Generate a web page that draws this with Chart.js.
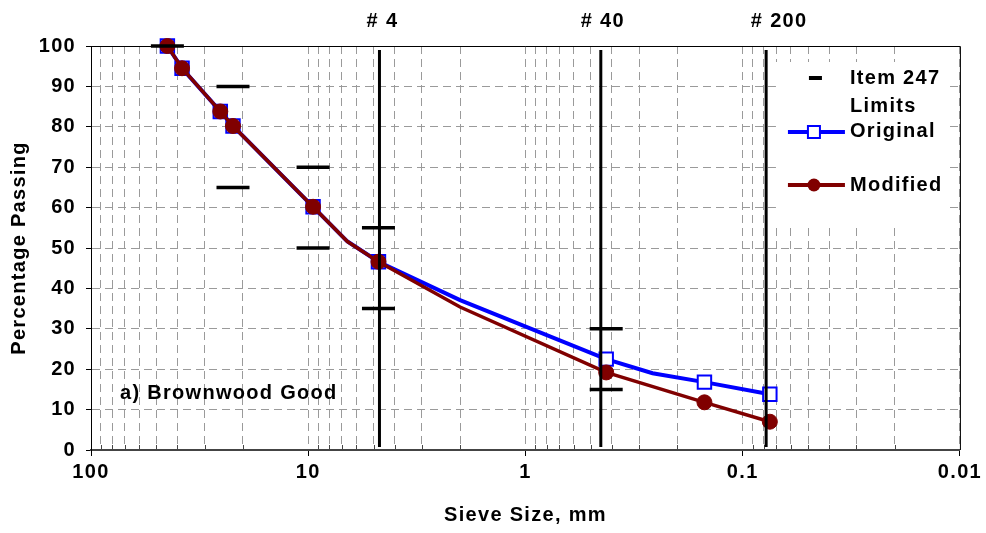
<!doctype html>
<html>
<head>
<title>Brownwood Good - Gradation</title>
<script src="https://cdn.jsdelivr.net/npm/chart.js@4.4.0/dist/chart.umd.min.js"></script>
<style>
html, body { margin: 0; padding: 0; background: #fff; }
#wrap { width: 986px; height: 533px; position: relative; }
</style>
</head>
<body>
<div id="wrap"><canvas id="chart"></canvas></div>
<script>
// sieve sizes (mm) that carry a marker
const sieveSizes = [44.5, 38.1, 25.4, 22.2, 9.5, 4.75, 0.425, 0.15, 0.075];

// Original gradation (incl. a few unmarked bend points)
const origSize = [44.5, 38.1, 25.4, 22.2, 9.5, 6.6, 4.75, 2.0, 0.425, 0.26, 0.15, 0.075];
const origPass = [100, 94.5, 83.8, 80.2, 60.2, 51.6, 46.6, 37.1, 22.5, 19.0, 16.8, 13.8];

// Modified gradation
const modSize = [44.5, 38.1, 25.4, 22.2, 9.5, 6.6, 4.75, 2.0, 0.425, 0.15, 0.075];
const modPass = [100, 94.5, 83.8, 80.2, 60.2, 51.6, 46.6, 35.4, 19.2, 11.8, 7.0];

// Item 247 limits
const limitSize = [44.5, 22.2, 22.2, 9.5, 9.5, 4.75, 4.75, 0.425, 0.425];
const limitPass = [100, 90, 65, 70, 50, 55, 35, 30, 15];

// sieve reference lines
const sieveLineSize = [4.7, 0.45, 0.078];
const sieveLineLabel = ['# 4', '# 40', '# 200'];

// axis ticks
const xTickValues = [100, 10, 1, 0.1, 0.01];
const xTickLabels = ['100', '10', '1', '0.1', '0.01'];
const yTickStep = 10;

const FONT = '"Liberation Sans", Arial, sans-serif';
const SPACING = '1.3px';
Chart.defaults.font.family = FONT;
Chart.defaults.color = '#000';

function mant(v) {
  return v / Math.pow(10, Math.floor(Math.log10(v) + 1e-9));
}
function isDecade(v) {
  return Math.abs(mant(v) - 1) < 1e-6;
}
function isWholeStep(v) {
  const m = mant(v);
  return Math.abs(m - Math.round(m)) < 1e-6;
}
function marked(ctx) {
  const r = ctx.raw;
  return r && sieveSizes.some(s => Math.abs(s - r.x) < 1e-9);
}
function pts(xs, ys) {
  return xs.map((s, i) => ({x: s, y: ys[i]}));
}

// the original text is a bit wider than Arial, widen it a little
const spacing = {
  id: 'spacing',
  beforeLayout(chart) { chart.ctx.letterSpacing = SPACING; },
  beforeDraw(chart) { chart.ctx.letterSpacing = SPACING; }
};

const extras = {
  id: 'extras',
  afterDatasetsDraw(chart) {
    const {ctx, chartArea: a, scales: {x}} = chart;
    ctx.save();
    // small inner ticks on the bottom axis
    ctx.strokeStyle = '#444';
    ctx.lineWidth = 1;
    x.ticks.forEach(t => {
      if (isDecade(t.value)) return;
      const px = Math.round(x.getPixelForValue(t.value)) + 0.5;
      ctx.beginPath();
      ctx.moveTo(px, a.bottom - 1);
      ctx.lineTo(px, a.bottom - 5);
      ctx.stroke();
    });
    // frame top/right
    ctx.strokeStyle = '#000';
    ctx.beginPath();
    ctx.moveTo(a.left, a.top + 0.5);
    ctx.lineTo(a.right + 0.5, a.top + 0.5);
    ctx.lineTo(a.right + 0.5, a.bottom);
    ctx.stroke();
    // sieve lines
    const nudge = [3, 2, 13];
    ctx.lineWidth = 3;
    ctx.font = 'bold 20px ' + FONT;
    ctx.textAlign = 'center';
    ctx.textBaseline = 'middle';
    ctx.fillStyle = '#000';
    sieveLineSize.forEach((s, i) => {
      const px = x.getPixelForValue(s);
      ctx.beginPath();
      ctx.moveTo(px, a.top + 4);
      ctx.lineTo(px, a.bottom - 3);
      ctx.stroke();
      ctx.fillText(sieveLineLabel[i], px + nudge[i], 21);
    });
    // panel label
    ctx.textAlign = 'left';
    ctx.fillText('a) Brownwood Good', a.left + 29, 393);
    ctx.restore();
  },
  afterDraw(chart) {
    const {ctx, chartArea: a} = chart;
    const lx = a.right - 184;
    ctx.save();
    ctx.fillStyle = '#fff';
    ctx.fillRect(lx, 62, 174, 166);
    ctx.font = 'bold 20px ' + FONT;
    ctx.textAlign = 'left';
    ctx.textBaseline = 'middle';
    // limits
    ctx.fillStyle = '#000';
    ctx.fillRect(lx + 33, 76, 13, 4);
    ctx.fillText('Item 247', lx + 74, 78);
    ctx.fillText('Limits', lx + 74, 106);
    // original
    ctx.strokeStyle = '#0000ff';
    ctx.lineWidth = 4;
    ctx.beginPath();
    ctx.moveTo(lx + 12, 132);
    ctx.lineTo(lx + 69, 132);
    ctx.stroke();
    ctx.fillStyle = '#fff';
    ctx.lineWidth = 2;
    ctx.fillRect(lx + 32, 126, 12, 12);
    ctx.strokeRect(lx + 32, 126, 12, 12);
    ctx.fillStyle = '#000';
    ctx.fillText('Original', lx + 74, 131);
    // modified
    ctx.strokeStyle = '#800000';
    ctx.lineWidth = 4;
    ctx.beginPath();
    ctx.moveTo(lx + 12, 185);
    ctx.lineTo(lx + 69, 185);
    ctx.stroke();
    ctx.fillStyle = '#800000';
    ctx.beginPath();
    ctx.arc(lx + 38, 185, 6.5, 0, Math.PI * 2);
    ctx.fill();
    ctx.fillStyle = '#000';
    ctx.fillText('Modified', lx + 74, 185);
    ctx.restore();
  }
};

const ctx = document.getElementById('chart').getContext('2d');
new Chart(ctx, {
  type: 'line',
  data: {
    datasets: [
      {
        label: 'Item 247 Limits',
        data: pts(limitSize, limitPass),
        showLine: false,
        pointStyle: 'line',
        pointRadius: 16.5,
        pointBorderWidth: 3.5,
        pointBorderColor: '#000',
        borderColor: '#000',
        order: 0,
        clip: false
      },
      {
        label: 'Modified',
        data: pts(modSize, modPass),
        borderColor: '#800000',
        backgroundColor: '#800000',
        borderWidth: 3.5,
        tension: 0,
        pointStyle: 'circle',
        pointRadius: c => marked(c) ? 7.5 : 0,
        pointBackgroundColor: '#800000',
        pointBorderColor: '#800000',
        pointBorderWidth: 1,
        order: 1,
        clip: false
      },
      {
        label: 'Original',
        data: pts(origSize, origPass),
        borderColor: '#0000ff',
        backgroundColor: '#ffffff',
        borderWidth: 4,
        tension: 0,
        pointStyle: 'rect',
        pointRadius: c => marked(c) ? 9.5 : 0,
        pointBackgroundColor: '#ffffff',
        pointBorderColor: '#0000ff',
        pointBorderWidth: 2,
        order: 2,
        clip: false
      }
    ]
  },
  options: {
    responsive: true,
    maintainAspectRatio: false,
    animation: false,
    events: [],
    layout: {padding: {top: 46, right: 25, left: 0, bottom: 0}},
    plugins: {legend: {display: false}, tooltip: {enabled: false}},
    scales: {
      x: {
        type: 'logarithmic',
        reverse: true,
        min: 0.01,
        max: 100,
        afterBuildTicks: s => { s.ticks = s.ticks.filter(t => isWholeStep(t.value)); },
        afterFit: s => { s.height = 83; },
        grid: {
          color: '#9a9a9a',
          lineWidth: 1,
          tickLength: 6,
          tickWidth: 1,
          tickBorderDash: [],
          tickColor: c => (c.tick && isDecade(c.tick.value)) ? '#000' : 'rgba(0,0,0,0)'
        },
        border: {color: '#444', width: 2, dash: [8, 5]},
        ticks: {
          autoSkip: false,
          maxRotation: 0,
          padding: 4,
          color: '#000',
          font: {size: 20, weight: 'bold'},
          callback: v => {
            const i = xTickValues.findIndex(t => Math.abs(Math.log10(t) - Math.log10(v)) < 1e-6);
            return i >= 0 ? xTickLabels[i] : '';
          }
        },
        title: {display: true, text: 'Sieve Size, mm', color: '#000', font: {size: 20, weight: 'bold'}, padding: {top: 0, bottom: 6}}
      },
      y: {
        min: 0,
        max: 100,
        afterFit: s => { s.width = 91; },
        grid: {color: '#9a9a9a', lineWidth: 1, tickLength: 5, tickColor: '#000', tickBorderDash: []},
        border: {color: '#000', width: 1, dash: [8, 5]},
        ticks: {stepSize: yTickStep, padding: 10, color: '#000', font: {size: 20, weight: 'bold'}},
        title: {display: true, text: 'Percentage Passing', color: '#000', font: {size: 20, weight: 'bold'}, padding: {top: 7, bottom: 0}}
      }
    }
  },
  plugins: [spacing, extras]
});
</script>
</body>
</html>
